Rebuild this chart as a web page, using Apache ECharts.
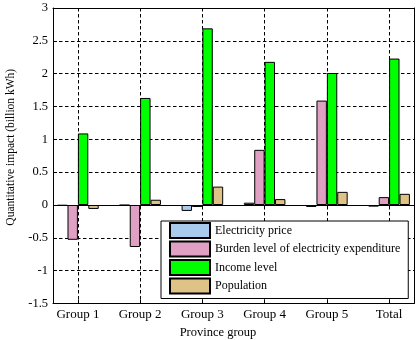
<!DOCTYPE html>
<html>
<head>
<meta charset="utf-8">
<script src="https://cdn.jsdelivr.net/npm/echarts@6/dist/echarts.min.js"></script>
<style>html,body{margin:0;padding:0;background:#fff;}#c{width:416px;height:340px;}</style>
</head>
<body>
<div id="c"></div>
<script>
const categories = ['Group 1', 'Group 2', 'Group 3', 'Group 4', 'Group 5', 'Total'];
const seriesNames = ['Electricity price', 'Burden level of electricity expenditure', 'Income level', 'Population'];
const electricityPrice = [-0.01, -0.005, -0.09, 0.035, -0.03, -0.025];
const burdenLevel = [-0.53, -0.64, -0.03, 0.84, 1.59, 0.12];
const incomeLevel = [1.09, 1.63, 2.69, 2.18, 2.01, 2.23];
const population = [-0.06, 0.08, 0.28, 0.09, 0.20, 0.17];
const yTicks = [-1.5, -1, -0.5, 0, 0.5, 1, 1.5, 2, 2.5, 3];
const colors = ['#a9cbee', '#dfa0c3', '#00ff00', '#dfc386'];

const FONT = 'Liberation Serif';
const allValues = [electricityPrice, burdenLevel, incomeLevel, population];
const xPos = categories.map((c, i) => i + 1);

const series = allValues.map((vals, k) => ({
  name: seriesNames[k],
  type: 'bar',
  xAxisIndex: 0,
  yAxisIndex: 0,
  barWidth: 10.4,
  barGap: '0%',
  itemStyle: { color: colors[k], borderColor: '#000', borderWidth: 1 },
  data: vals.map((v, i) => [xPos[i], v])
}));
series[0].markLine = {
  silent: true, symbol: 'none', label: { show: false },
  lineStyle: { color: '#000', type: 'solid', width: 1 },
  data: [{ yAxis: 0 }]
};

const chart = echarts.init(document.getElementById('c'), null, { renderer: 'canvas' });
chart.setOption({
  animation: false,
  backgroundColor: '#fff',
  textStyle: { fontFamily: FONT },
  grid: { left: 53, right: 2, top: 8, bottom: 36.5, containLabel: false, outerBoundsMode: 'none' },
  legend: {
    orient: 'vertical',
    left: 161, top: 221,
    padding: [1, 8, 4, 8],
    itemWidth: 40, itemHeight: 15, itemGap: 1.5,
    borderColor: '#000', borderWidth: 1, backgroundColor: '#fff',
    textStyle: { fontFamily: FONT, fontSize: 12, lineHeight: 15, color: '#000' },
    data: seriesNames,
    icon: 'rect'
  },
  xAxis: [{
    type: 'value', min: 0.6, max: 6.4, position: 'bottom',
    name: 'Province group', nameLocation: 'middle', nameGap: 19,
    nameTextStyle: { fontFamily: FONT, fontSize: 12.5, color: '#000', padding: [0, 31, 0, 0] },
    axisLine: { show: true, onZero: false, lineStyle: { color: '#000', width: 1 } },
    axisTick: { show: true, inside: true, length: 4, customValues: xPos, lineStyle: { color: '#000' } },
    axisLabel: { customValues: xPos, formatter: v => categories[Math.round(v) - 1] || '', fontFamily: FONT, fontSize: 13, color: '#000', margin: 5 },
    splitLine: { show: true, lineStyle: { color: '#000', type: [3.5, 2.5], width: 1 } }
  }, {
    type: 'value', min: 0.6, max: 6.4, position: 'top',
    axisLine: { show: true, onZero: false, lineStyle: { color: '#000', width: 1 } },
    axisTick: { show: false }, axisLabel: { show: false }, splitLine: { show: false }
  }],
  yAxis: [{
    type: 'value', min: -1.5, max: 3, interval: 0.5, position: 'left',
    name: 'Quantitative impact (billion kWh)', nameLocation: 'middle', nameGap: 34,
    nameTextStyle: { fontFamily: FONT, fontSize: 11.5, color: '#000', padding: [0, 0, 0, 17] },
    axisLine: { show: true, onZero: false, lineStyle: { color: '#000', width: 1 } },
    axisTick: { show: true, inside: true, length: 4, lineStyle: { color: '#000' } },
    axisLabel: { fontFamily: FONT, fontSize: 12.5, color: '#000', margin: 5, formatter: v => String(v) },
    splitLine: { show: true, lineStyle: { color: '#000', type: [3.5, 2.5], width: 1 } }
  }, {
    type: 'value', min: -1.5, max: 3, interval: 0.5, position: 'right',
    axisLine: { show: true, onZero: false, lineStyle: { color: '#000', width: 1 } },
    axisTick: { show: false }, axisLabel: { show: false }, splitLine: { show: false }
  }],
  series: series
});
</script>
</body>
</html>
